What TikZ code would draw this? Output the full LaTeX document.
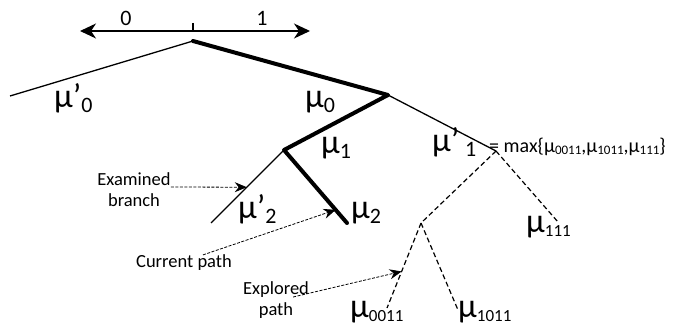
\documentclass[tikz,border=0pt]{standalone}
\usepackage{fontspec}
\setmainfont{Carlito}
\usetikzlibrary{arrows.meta,positioning,calc}
\newcommand\bigsub[1]{\raisebox{-5pt}{\fontsize{22}{22}\selectfont#1}}
\newcommand\smallsub[1]{\raisebox{-4pt}{\fontsize{17}{17}\selectfont#1}}
\newcommand\maxsub[1]{\raisebox{-2.5pt}{\fontsize{13}{13}\selectfont#1}}

\begin{document}
\begin{tikzpicture}[x=1pt,y=-1pt,
 mu/.style={anchor=base west,inner sep=0pt,font=\fontsize{34}{34}\selectfont},
 note/.style={align=center,inner sep=0pt,font=\fontsize{18.5}{21}\selectfont},
 bit/.style={inner sep=0pt,font=\fontsize{22}{22}\selectfont},
 thin/.style={line width=1.3pt},
 heavy/.style={line width=4pt,line cap=round,line join=round},
 explored/.style={line width=1.2pt,dash pattern=on 5pt off 3pt},
 pointer/.style={line width=0.8pt,dash pattern=on 3pt off 1.5pt,-{Stealth[length=12pt,width=10pt]}},
 axis/.style={line width=1.3pt,-{Stealth[length=16pt,width=15pt,inset=5pt]}}]
\useasboundingbox (0,0) rectangle (676,326);
% bit axis
\coordinate (axM) at (193,31);
\coordinate (axL) at (80,31);
\coordinate (axR) at (310,31);
\coordinate (tick) at (193,23);
\draw[axis] (axM) -- (axL);
\draw[axis] (axM) -- (axR);
\draw[thin] (tick) -- (axM);
\node[bit] (zero) at (126,18) {0};
\node[bit] (one) at (262,18) {1};
% tree points
\coordinate (root) at (193,41);
\coordinate (l0) at (10,96);
\coordinate (a) at (388,95);
\coordinate (b) at (284,150);
\coordinate (c) at (496,151);
\coordinate (d) at (421,223);
\coordinate (e2p) at (211,223);
\coordinate (e2) at (347,223);
\coordinate (e111) at (558,222);
\coordinate (e0011) at (387,308);
\coordinate (e1011) at (458,310);
\draw[thin] (root) -- (l0);
\draw[thin] (a) -- (c);
\draw[thin] (b) -- (e2p);
\draw[heavy] (root) -- (a) -- (b) -- (e2);
\draw[explored] (c) -- (d);
\draw[explored] (c) -- (e111);
\draw[explored] (d) -- (e0011);
\draw[explored] (d) -- (e1011);
% metric labels
\node[mu] (mu0p) at (54,107) {μ’\bigsub{0}};
\node[mu] (mu0) at (305,107) {μ\bigsub{0}};
\node[mu] (mu1) at (321,153) {μ\bigsub{1}};
\node[mu] (mu1p) at (432,151) {μ’\,\bigsub{1}};
\node[anchor=base west,inner sep=0pt,font=\fontsize{20}{20}\selectfont] (maxval) at (489,152)
 {= max\{μ\maxsub{0011},μ\maxsub{1011},μ\maxsub{111}\}};
\node[mu] (mu2p) at (238,218) {μ’\bigsub{2}};
\node[mu] (mu2) at (351,218) {μ\bigsub{2}};
\node[mu] (mu111) at (526,232) {μ\smallsub{111}};
\node[mu] (mu0011) at (350,317) {μ\smallsub{0011}};
\node[mu] (mu1011) at (458,317) {μ\smallsub{1011}};
% annotations
\node[note] (exam) at (134,190) {Examined\\branch};
\node[note] (cur) at (184,263) {Current path};
\node[note] (expl) at (276,300) {Explored\\path};
\draw[pointer] (exam.east |- 0,187) -- ($(b)!0.51!(e2p)$);
\draw[pointer] ([xshift=19pt]cur.north) -- ($(b)!0.82!(e2)$);
\draw[pointer] ([xshift=-16pt,yshift=3pt]expl.east) -- ($(d)!0.57!(e0011)$);
\end{tikzpicture}
\end{document}
